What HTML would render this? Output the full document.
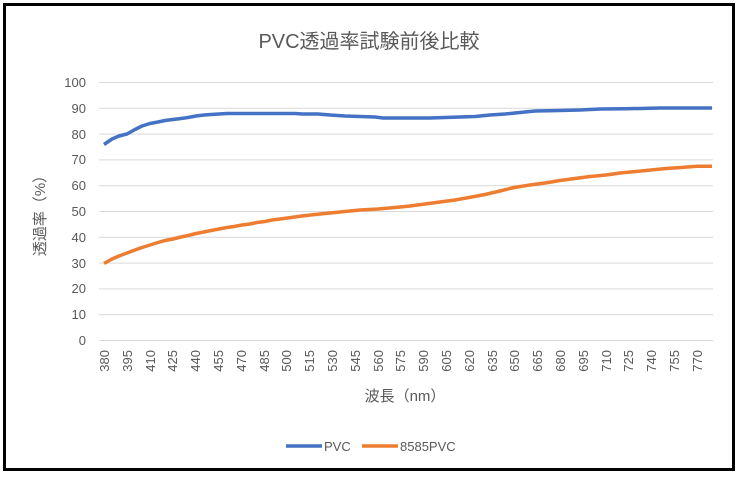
<!DOCTYPE html><html><head><meta charset="utf-8"><style>
body{margin:0;background:#fff}
svg text{font-family:"Liberation Sans","Noto Sans CJK JP",sans-serif;fill:#595959}
</style></head><body>
<svg width="738" height="474" viewBox="0 0 738 474" xmlns="http://www.w3.org/2000/svg">
<rect x="0" y="0" width="738" height="474" fill="#fff"/>
<rect x="4.5" y="4.5" width="729" height="465" fill="none" stroke="#000" stroke-width="3"/>
<text x="369" y="48" font-size="20" text-anchor="middle">PVC透過率試験前後比較</text>
<g stroke="#d9d9d9" stroke-width="1">
<line x1="99" x2="713" y1="82.5" y2="82.5"/><line x1="99" x2="713" y1="108.3" y2="108.3"/>
<line x1="99" x2="713" y1="134.1" y2="134.1"/><line x1="99" x2="713" y1="159.9" y2="159.9"/>
<line x1="99" x2="713" y1="185.7" y2="185.7"/><line x1="99" x2="713" y1="211.5" y2="211.5"/>
<line x1="99" x2="713" y1="237.3" y2="237.3"/><line x1="99" x2="713" y1="263.1" y2="263.1"/>
<line x1="99" x2="713" y1="288.9" y2="288.9"/><line x1="99" x2="713" y1="314.7" y2="314.7"/>
<line x1="99" x2="713" y1="340.5" y2="340.5"/>
</g>
<g font-size="13" text-anchor="end">
<text x="86" y="87">100</text><text x="86" y="113">90</text><text x="86" y="139">80</text>
<text x="86" y="164">70</text><text x="86" y="190">60</text><text x="86" y="216">50</text>
<text x="86" y="242">40</text><text x="86" y="268">30</text><text x="86" y="293">20</text>
<text x="86" y="319">10</text><text x="86" y="345">0</text>
</g>
<g font-size="13" text-anchor="end">
<text transform="translate(109,350) rotate(-90)">380</text>
<text transform="translate(132,350) rotate(-90)">395</text>
<text transform="translate(155,350) rotate(-90)">410</text>
<text transform="translate(177,350) rotate(-90)">425</text>
<text transform="translate(200,350) rotate(-90)">440</text>
<text transform="translate(223,350) rotate(-90)">455</text>
<text transform="translate(246,350) rotate(-90)">470</text>
<text transform="translate(269,350) rotate(-90)">485</text>
<text transform="translate(291,350) rotate(-90)">500</text>
<text transform="translate(314,350) rotate(-90)">515</text>
<text transform="translate(337,350) rotate(-90)">530</text>
<text transform="translate(360,350) rotate(-90)">545</text>
<text transform="translate(383,350) rotate(-90)">560</text>
<text transform="translate(405,350) rotate(-90)">575</text>
<text transform="translate(428,350) rotate(-90)">590</text>
<text transform="translate(451,350) rotate(-90)">605</text>
<text transform="translate(474,350) rotate(-90)">620</text>
<text transform="translate(497,350) rotate(-90)">635</text>
<text transform="translate(519,350) rotate(-90)">650</text>
<text transform="translate(542,350) rotate(-90)">665</text>
<text transform="translate(565,350) rotate(-90)">680</text>
<text transform="translate(588,350) rotate(-90)">695</text>
<text transform="translate(611,350) rotate(-90)">710</text>
<text transform="translate(633,350) rotate(-90)">725</text>
<text transform="translate(656,350) rotate(-90)">740</text>
<text transform="translate(679,350) rotate(-90)">755</text>
<text transform="translate(702,350) rotate(-90)">770</text>
</g>
<text x="405" y="401" font-size="15" text-anchor="middle">波長（nm）</text>
<text transform="translate(45,212) rotate(-90)" font-size="15" text-anchor="middle">透過率（%）</text>
<polyline fill="none" stroke="#4472c4" stroke-width="3.5" stroke-linejoin="round" points="104,144.5 112,139 119,136 127,134 135,129.5 142,126 150,123.5 158,122 165,120.5 173,119.5 181,118.5 188,117.5 196,116 204,115 211,114.5 219,114 227,113.5 250,113.5 272,113.5 295,113.5 302,114 318,114 330,115 345,116 360,116.5 375,117 383,118 400,118 430,118 445,117.5 460,117 475,116.5 490,115 505,114 520,112.5 535,111 560,110.5 580,110 600,109 625,108.8 660,108 712,108"/>
<polyline fill="none" stroke="#ed7d31" stroke-width="3.5" stroke-linejoin="round" points="104,263.5 112,259 119,256 127,253 135,250 142,247.5 150,245 158,242.5 165,240.5 173,239 181,237 188,235.5 196,233.5 204,232 211,230.5 219,229 227,227.5 234,226.5 242,225 250,224 257,222.5 265,221.5 272,220 280,219 291,217.5 302,216 315,214.5 330,213 345,211.5 360,210 378,209 395,207.5 410,206 425,204 440,202 455,200 469,197.5 485,194.5 500,191 514,187.5 530,185 545,183 560,180.5 575,178.5 590,176.5 606,175 620,173 636,171.5 651,170 666,168.5 681,167.5 697,166.3 712,166.3"/>
<line x1="286" y1="446" x2="322" y2="446" stroke="#4472c4" stroke-width="3.5"/>
<text x="324" y="451" font-size="13">PVC</text>
<line x1="362" y1="446" x2="398" y2="446" stroke="#ed7d31" stroke-width="3.5"/>
<text x="400" y="451" font-size="13">8585PVC</text>
</svg>
</body></html>
